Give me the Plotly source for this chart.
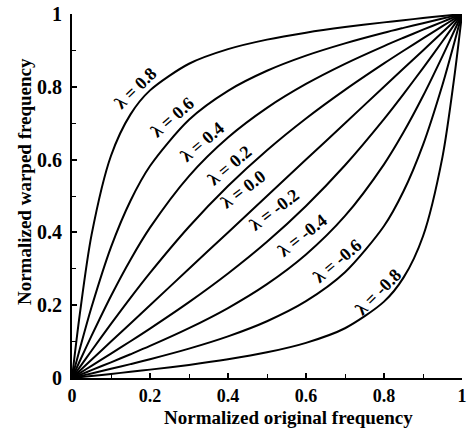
import plotly.graph_objects as go

# Normalized original frequency (x) grid
x_vals = [0, 0.02, 0.05, 0.1, 0.15, 0.2, 0.3, 0.4, 0.5, 0.6, 0.7, 0.8, 0.85, 0.9, 0.95, 0.98, 1]

# Normalized warped frequency for each warping factor lambda
lam_p08 = [0, 0.1755, 0.3924, 0.6105, 0.7243, 0.7902, 0.8633, 0.9034, 0.9296, 0.9487, 0.9640, 0.9770, 0.9830, 0.9888, 0.9944, 0.9978, 1]
lam_p06 = [0, 0.0796, 0.1942, 0.3595, 0.4871, 0.5825, 0.7096, 0.7890, 0.8440, 0.8856, 0.9193, 0.9484, 0.9618, 0.9748, 0.9875, 0.9950, 1]
lam_p04 = [0, 0.0466, 0.1156, 0.2254, 0.3251, 0.4130, 0.5548, 0.6607, 0.7422, 0.8078, 0.8631, 0.9119, 0.9347, 0.9569, 0.9785, 0.9914, 1]
lam_p02 = [0, 0.0300, 0.0748, 0.1485, 0.2201, 0.2887, 0.4155, 0.5273, 0.6257, 0.7129, 0.7915, 0.8642, 0.8990, 0.9330, 0.9666, 0.9867, 1]
lam_000 = [0, 0.02, 0.05, 0.1, 0.15, 0.2, 0.3, 0.4, 0.5, 0.6, 0.7, 0.8, 0.85, 0.9, 0.95, 0.98, 1]
lam_m02 = [0, 0.0133, 0.0334, 0.0670, 0.1010, 0.1358, 0.2085, 0.2872, 0.3743, 0.4727, 0.5845, 0.7113, 0.7800, 0.8515, 0.9252, 0.9700, 1]
lam_m04 = [0, 0.0086, 0.0215, 0.0431, 0.0653, 0.0881, 0.1369, 0.1922, 0.2578, 0.3393, 0.4452, 0.5870, 0.6749, 0.7746, 0.8844, 0.9534, 1]
lam_m06 = [0, 0.0050, 0.0125, 0.0252, 0.0382, 0.0516, 0.0807, 0.1144, 0.1560, 0.2110, 0.2904, 0.4175, 0.5129, 0.6405, 0.8058, 0.9204, 1]
lam_m08 = [0, 0.0022, 0.0056, 0.0112, 0.0170, 0.0230, 0.0360, 0.0513, 0.0705, 0.0966, 0.1367, 0.2098, 0.2757, 0.3895, 0.6076, 0.8245, 1]

series_labels = ["λ = 0.8", "λ = 0.6", "λ = 0.4", "λ = 0.2", "λ = 0.0",
                 "λ = -0.2", "λ = -0.4", "λ = -0.6", "λ = -0.8"]
series_values = [lam_p08, lam_p06, lam_p04, lam_p02, lam_000,
                 lam_m02, lam_m04, lam_m06, lam_m08]

tick_vals = [0, 0.2, 0.4, 0.6, 0.8, 1]
tick_text = ["0", "0.2", "0.4", "0.6", "0.8", "1"]

# label placement (data coords) and angle
label_pos = [(0.163, 0.797), (0.258, 0.717), (0.334, 0.648), (0.405, 0.586), (0.440, 0.518),
             (0.518, 0.462), (0.592, 0.392), (0.680, 0.322), (0.785, 0.236)]
label_ang = [-44, -41, -40, -40, -37, -37, -38, -40, -45]

FONT = "Liberation Serif"

fig = go.Figure()
for name, ys in zip(series_labels, series_values):
    fig.add_trace(go.Scatter(x=x_vals, y=ys, mode="lines", name=name,
                             line=dict(color="black", width=2, shape="spline", smoothing=0.8),
                             cliponaxis=False, showlegend=False, hoverinfo="skip"))

for name, (lx, ly), ang in zip(series_labels, label_pos, label_ang):
    fig.add_annotation(x=lx, y=ly, xref="x", yref="y", text=name, showarrow=False,
                       textangle=ang, font=dict(family=FONT, size=18, color="black", weight="bold"))

axis_common = dict(range=[0, 1], showline=True, linecolor="black", linewidth=2,
                   ticks="inside", ticklen=5, tickwidth=1.5, tickcolor="black",
                   tickvals=tick_vals, ticktext=tick_text, showgrid=False, zeroline=False,
                   ticklabeloverflow="allow",
                   minor=dict(ticks="inside", ticklen=4, tickwidth=1.2, tickcolor="black", dtick=0.1))

fig.update_xaxes(**axis_common, ticklabelstandoff=0,
                 tickfont=dict(family=FONT, size=18, color="black", weight="bold"))
fig.update_yaxes(**axis_common, ticklabelstandoff=4,
                 tickfont=dict(family=FONT, size=20, color="black", weight="bold"))

fig.add_annotation(x=0.554, y=-0.108, xref="paper", yref="paper", text="Normalized original frequency",
                   xanchor="center", yanchor="middle", showarrow=False,
                   font=dict(family=FONT, size=19, color="black", weight="bold"))
fig.add_annotation(x=-0.1215, y=0.54, xref="paper", yref="paper", text="Normalized warped frequency",
                   xanchor="center", yanchor="middle", showarrow=False, textangle=-90,
                   font=dict(family=FONT, size=19, color="black", weight="bold"))

fig.update_layout(width=470, height=431, margin=dict(l=72, r=3, t=13, b=53),
                  plot_bgcolor="white", paper_bgcolor="white")

fig.write_html("out.html")
